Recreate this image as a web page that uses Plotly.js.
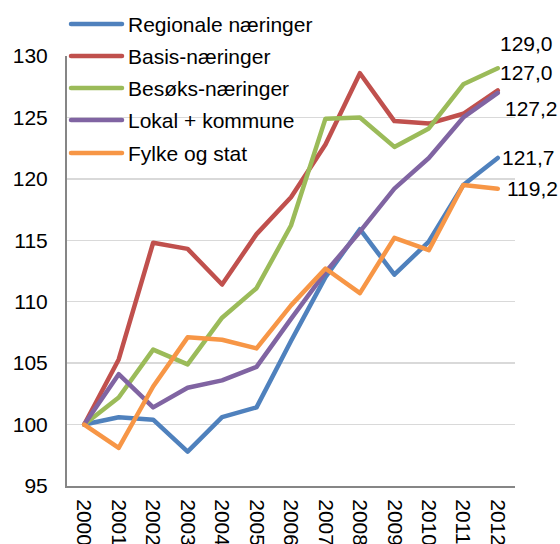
<!DOCTYPE html>
<html>
<head>
<meta charset="utf-8">
<script src="https://cdn.plot.ly/plotly-3.0.1.min.js"></script>
<style>
  html, body { margin: 0; padding: 0; background: #fff; }
  #chart { width: 560px; height: 544px; }
  #chart .js-line { stroke-linejoin: round; stroke-linecap: round; }
  #chart .shapelayer path { stroke-linecap: round; }
</style>
</head>
<body>
<div id="chart"></div>
<script>
// ---- data ----
const years = ["2000","2001","2002","2003","2004","2005","2006","2007","2008","2009","2010","2011","2012"];
const seriesNames = ["Regionale næringer", "Basis-næringer", "Besøks-næringer", "Lokal + kommune", "Fylke og stat"];
const regionale = [100, 100.6, 100.4, 97.8, 100.6, 101.4, 106.8, 112.0, 115.9, 112.2, 114.9, 119.5, 121.7];
const basis     = [100, 105.3, 114.8, 114.3, 111.4, 115.5, 118.5, 122.8, 128.6, 124.7, 124.5, 125.3, 127.2];
const besoks    = [100, 102.2, 106.1, 104.9, 108.7, 111.1, 116.2, 124.9, 125.0, 122.6, 124.1, 127.7, 129.0];
const lokal     = [100, 104.1, 101.4, 103.0, 103.6, 104.7, 108.6, 112.4, 115.7, 119.2, 121.7, 125.0, 127.0];
const fylke     = [100, 98.1, 103.1, 107.1, 106.9, 106.2, 109.7, 112.7, 110.7, 115.2, 114.2, 119.5, 119.2];
const yTicks = [95, 100, 105, 110, 115, 120, 125, 130];

// ---- styles ----
const colors = ["#4F81BD", "#C0504D", "#9BBB59", "#8064A2", "#F79646"];
const allSeries = [regionale, basis, besoks, lokal, fylke];
const FONT = "Liberation Sans, Arial, sans-serif";
const FS = 21;

const traces = allSeries.map((vals, i) => ({
  type: "scatter",
  mode: "lines",
  x: years,
  y: vals,
  name: seriesNames[i],
  line: { color: colors[i], width: 4.5 },
  showlegend: false,
  hoverinfo: "skip"
}));

// end labels (placement offsets per series, px)
const endShift = [0, -18, 25, 20, 0];
const endXShift = [2, 5, 0, 0, 7];
const annotations = allSeries.map((vals, i) => {
  const v = vals[vals.length - 1];
  return {
    x: years.length - 1, y: v, xref: "x", yref: "y",
    text: v.toFixed(1).replace(".", ","),
    showarrow: false, xanchor: "left", yanchor: "middle",
    xshift: endXShift[i], yshift: endShift[i],
    font: { family: FONT, size: FS, color: "#000" }
  };
});

// custom legend (long line samples like the reference)
const plotTop = 56, plotBottom = 486, plotLeft = 67, plotW = 448, plotH = 430;
const legendRowsPx = [24, 56, 88, 120, 153];
const shapes = [];
seriesNames.forEach((nm, i) => {
  const yp = (plotBottom - legendRowsPx[i]) / plotH;
  shapes.push({
    type: "line", xref: "paper", yref: "paper",
    x0: (71 - plotLeft) / plotW, x1: (122 - plotLeft) / plotW,
    y0: yp, y1: yp,
    line: { color: colors[i], width: 4.5 }
  });
  annotations.push({
    x: (126 - plotLeft) / plotW, y: yp, xref: "paper", yref: "paper",
    text: nm, showarrow: false, xanchor: "left", yanchor: "middle",
    font: { family: FONT, size: FS, color: "#000" }
  });
});

const layout = {
  width: 560, height: 544,
  margin: { l: plotLeft, r: 560 - plotLeft - plotW, t: plotTop, b: 544 - plotBottom, pad: 0 },
  paper_bgcolor: "#fff", plot_bgcolor: "#fff",
  font: { family: FONT, size: FS, color: "#000" },
  showlegend: false,
  xaxis: {
    type: "category",
    range: [-0.5, years.length - 0.5],
    tickangle: 90,
    showgrid: false,
    showline: true, linecolor: "#868686", linewidth: 2,
    ticks: "",
    ticklabelstandoff: 7,
    tickfont: { family: FONT, size: FS, color: "#000" },
    automargin: false,
    fixedrange: true
  },
  yaxis: {
    range: [95, 130],
    tickvals: yTicks,
    ticktext: yTicks.map(String),
    showgrid: true, gridcolor: "#D9D9D9", gridwidth: 1.5,
    showline: true, linecolor: "#868686", linewidth: 2,
    zeroline: false,
    ticks: "",
    ticklabelstandoff: 13,
    tickfont: { family: FONT, size: FS, color: "#000" },
    automargin: false,
    fixedrange: true
  },
  shapes: shapes,
  annotations: annotations
};

Plotly.newPlot("chart", traces, layout, { staticPlot: true, displayModeBar: false });
</script>
</body>
</html>
